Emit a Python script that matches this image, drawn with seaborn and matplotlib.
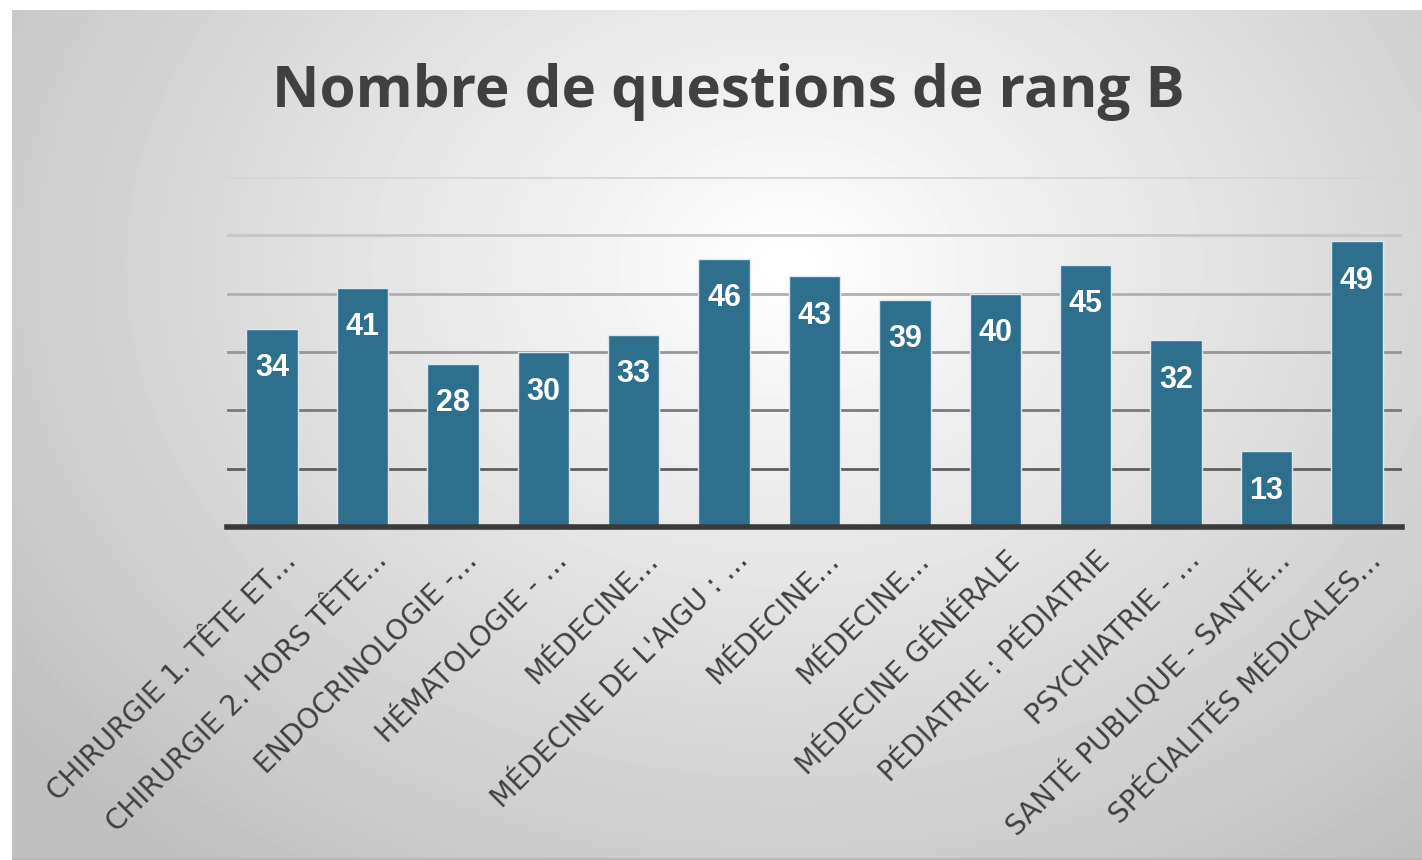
import numpy as np
import seaborn as sns
import matplotlib.pyplot as plt
import matplotlib.transforms as mtransforms

# données
categories = [
    "CHIRURGIE 1. TÊTE ET…",
    "CHIRURGIE 2. HORS TÊTE…",
    "ENDOCRINOLOGIE -…",
    "HÉMATOLOGIE - …",
    "MÉDECINE…",
    "MÉDECINE DE L'AIGU : …",
    "MÉDECINE…",
    "MÉDECINE…",
    "MÉDECINE GÉNÉRALE",
    "PÉDIATRIE : PÉDIATRIE",
    "PSYCHIATRIE - …",
    "SANTÉ PUBLIQUE - SANTÉ…",
    "SPÉCIALITÉS MÉDICALES…",
]
valeurs = [34, 41, 28, 30, 33, 46, 43, 39, 40, 45, 32, 13, 49]
grille = [10, 20, 30, 40, 50, 60]
titre = "Nombre de questions de rang B"

sns.set_theme(style="white")
plt.rcParams['font.family'] = ['DejaVu Sans']

fig = plt.figure(figsize=(14.22, 8.6), dpi=100)
fig.patch.set_facecolor("white")

# fond en dégradé (style Excel)
bg = fig.add_axes([12 / 1422, 0, 1 - 12 / 1422, 1 - 10 / 860])
yy, xx = np.mgrid[0:1:200j, 0:1:300j]
dist = np.sqrt(((xx - 0.55) / 0.7) ** 2 + ((yy - 0.3) / 0.9) ** 2)
bg.imshow(1 - np.clip(dist, 0, 1) * 0.25, cmap="gray", vmin=0, vmax=1,
          aspect="auto", extent=[0, 1, 1, 0], interpolation="bicubic")
bg.axhline(1, color="#b8b8b8", lw=3)
bg.set_axis_off()

ax = fig.add_axes([227 / 1422, 333 / 860, 1175 / 1422, 350 / 860])
ax.patch.set_alpha(0)

positions = list(range(len(valeurs)))
sns.barplot(x=positions, y=valeurs, color="#2e6f8e", saturation=1,
            width=0.57, edgecolor="#dce8ee", linewidth=1, ax=ax, zorder=3)

ax.set_ylim(0, 60)
ax.set_yticks(grille)
ax.set_yticklabels([])
ax.tick_params(axis="y", length=0)
ax.tick_params(axis="x", length=0, pad=21)
ax.grid(axis="y", lw=2)
couleurs_grille = ["#5e5e5e", "#7a7a7a", "#969696", "#b0b0b0", "#c6c6c6", "#d6d6d6"]
for ligne, c in zip(ax.get_ygridlines(), couleurs_grille):
    ligne.set_color(c)
ax.set_axisbelow(True)

for cote in ["top", "right", "left"]:
    ax.spines[cote].set_visible(False)
ax.spines["bottom"].set_color("#3a3a3a")
ax.spines["bottom"].set_linewidth(4)
ax.spines["bottom"].set_zorder(4)

# étiquettes de données
for i, v in enumerate(valeurs):
    ax.annotate(str(v), (i, v), xytext=(0, -28.5), textcoords="offset points",
                ha="center", va="center", color="white", fontsize=22,
                fontweight="bold", family="Liberation Sans", zorder=5)

ax.set_xticks(positions)
ax.set_xticklabels(categories)
decal = mtransforms.ScaledTranslation(20 / 100, 0, fig.dpi_scale_trans)
for lab in ax.get_xticklabels():
    lab.set_rotation(45)
    lab.set_ha("right")
    lab.set_va("center")
    lab.set_rotation_mode("anchor")
    lab.set_fontsize(20)
    lab.set_color("#404040")
    lab.set_transform(lab.get_transform() + decal)
ax.set_xlabel("")

fig.text(728 / 1422, 1 - 92 / 860, titre, ha="center", va="center",
         fontsize=42, fontweight="bold", color="#404040", family="Open Sans")

plt.savefig("out.png", dpi=100)
